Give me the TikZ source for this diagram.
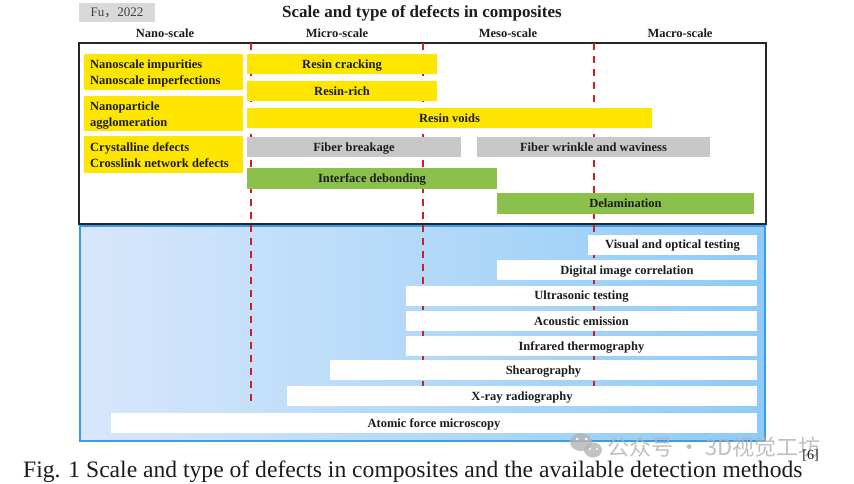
\documentclass[tikz,border=0pt]{standalone}
\usepackage{fontspec}
\setmainfont{Liberation Serif}
\newfontfamily\cjk{Noto Sans CJK SC}
\definecolor{ybar}{HTML}{FFE600}
\definecolor{gbar}{HTML}{C8C8C8}
\definecolor{grbar}{HTML}{8BC14B}
\definecolor{rline}{HTML}{CC1F2A}
\definecolor{bborder}{HTML}{3A9BEA}
\definecolor{blueL}{HTML}{D8E7FB}
\definecolor{blueR}{HTML}{8ECBF6}
\definecolor{txt}{HTML}{1C1C1C}
\definecolor{wm}{HTML}{B4B4B4}
\begin{document}
\begin{tikzpicture}[x=1pt,y=-1pt,
  lbl/.style={inner sep=0pt, text=txt, font=\fontsize{12.5}{14}\selectfont\bfseries},
  bar/.style={lbl, rectangle, minimum height=20pt, text height=8.5pt, text depth=0pt},
  ybox/.style={bar, fill=ybar},
  gbox/.style={bar, fill=gbar},
  grbox/.style={bar, fill=grbar},
  wbox/.style={bar, fill=white},
  nbox/.style={rectangle, fill=ybar, inner sep=0pt, minimum width=159pt},
  nline/.style={lbl, anchor=base west},
  scaleline/.style={rline, line width=2pt, dash pattern=on 7pt off 6pt}
]
\useasboundingbox (0,0) rectangle (854,484);

% header
\node[fill=black!15, minimum width=76pt, minimum height=19pt, inner sep=0pt, text=black!75,
      font=\fontsize{13}{15}\selectfont] (fu) at (117,12.5) {Fu{\cjk ，}2022};
\node[lbl, anchor=base, font=\fontsize{17}{19}\selectfont\bfseries] (title) at (422,18) {Scale and type of defects in composites};
\node[lbl, anchor=base] (nano) at (165,38) {Nano-scale};
\node[lbl, anchor=base] (micro) at (337,38) {Micro-scale};
\node[lbl, anchor=base] (meso) at (508,38) {Meso-scale};
\node[lbl, anchor=base] (macro) at (680,38) {Macro-scale};

% blue panel
\shade[left color=blueL, right color=blueR] (80,226) rectangle (765,441);
\draw[bborder, line width=2pt] (80,226) rectangle (765,441);
% black panel
\draw[black!85, line width=2pt, fill=white] (79,43) rectangle (766,224);

% scale dividers
\coordinate (d1t) at (251,43); \coordinate (d1b) at (251,405);
\coordinate (d2t) at (423,43); \coordinate (d2b) at (423,405);
\coordinate (d3t) at (594,43); \coordinate (d3b) at (594,405);
\draw[scaleline] (d1t) -- (d1b);
\draw[scaleline] (d2t) -- (d2b);
\draw[scaleline] (d3t) -- (d3b);

% nano-scale defects
\node[nbox, minimum height=36pt] (n1) at (163.5,72) {};
\node[nline] (n1a) at (90,69) {Nanoscale impurities};
\node[nline] (n1b) at (90,85) {Nanoscale imperfections};
\node[nbox, minimum height=35pt] (n2) at (163.5,113.5) {};
\node[nline] (n2a) at (90,111) {Nanoparticle};
\node[nline] (n2b) at (90,127) {agglomeration};
\node[nbox, minimum height=37pt] (n3) at (163.5,154.5) {};
\node[nline] (n3a) at (90,152) {Crystalline defects};
\node[nline] (n3b) at (90,167.5) {Crosslink network defects};

% defects
\node[ybox, minimum width=190pt] (rc) at (342,64) {Resin cracking};
\node[ybox, minimum width=190pt] (rr) at (342,91) {Resin-rich};
\node[ybox, minimum width=405pt] (rv) at (449.5,118) {Resin voids};
\node[gbox, minimum width=214pt] (fb) at (354,147) {Fiber breakage};
\node[gbox, minimum width=233pt] (fw) at (593.5,147) {Fiber wrinkle and waviness};
\node[grbox, minimum width=250pt, minimum height=21pt] (id) at (372,178.5) {Interface debonding};
\node[grbox, minimum width=257pt, minimum height=21pt] (dl) at (625.5,203.5) {Delamination};

% detection methods
\node[wbox, minimum width=169pt] (vo) at (672.5,244.5) {Visual and optical testing};
\node[wbox, minimum width=260pt] (dic) at (627,270) {Digital image correlation};
\node[wbox, minimum width=351pt] (ut) at (581.5,295.5) {Ultrasonic testing};
\node[wbox, minimum width=351pt] (ae) at (581.5,321) {Acoustic emission};
\node[wbox, minimum width=351pt] (ir) at (581.5,346) {Infrared thermography};
\node[wbox, minimum width=427pt] (sh) at (543.5,370) {Shearography};
\node[wbox, minimum width=470pt] (xr) at (522,396) {X-ray radiography};
\node[wbox, minimum width=646pt] (af) at (434,423) {Atomic force microscopy};

% watermark
\fill[wm, opacity=0.8] (581,442) ellipse (11pt and 9pt);
\fill[wm, opacity=0.8] (593,450) ellipse (9pt and 7.5pt);
\fill[white] (577,439) circle (1.5pt) (586,439) circle (1.5pt) (590,449) circle (1.2pt) (597,449) circle (1.2pt);
\node[anchor=base west, inner sep=0pt, text=wm, opacity=0.85, font=\cjk\fontsize{22}{24}\selectfont] (wmtext) at (607,455)
  {公众号 · 3D视觉工坊};

% caption
\node[anchor=base west, inner sep=0pt, text=txt, font=\fontsize{23.6}{26}\selectfont] (cap) at (23,477)
  {Fig. 1 Scale and type of defects in composites and the available detection methods\raisebox{18pt}{\fontsize{14}{16}\selectfont[6]}};
\end{tikzpicture}
\end{document}
